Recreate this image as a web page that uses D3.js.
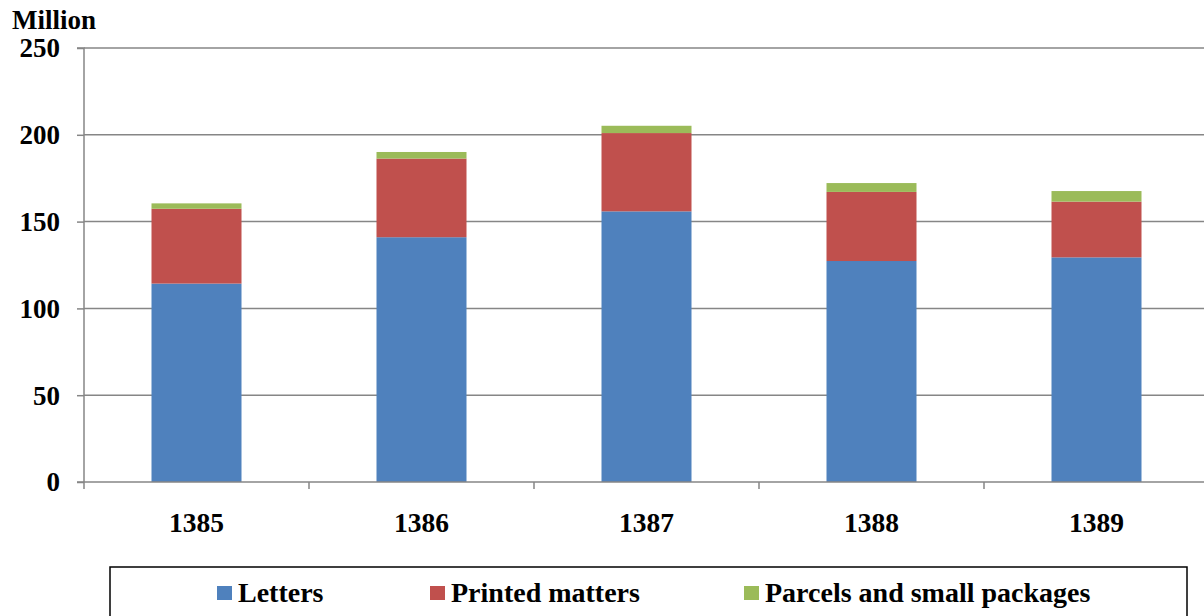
<!DOCTYPE html>
<html><head><meta charset="utf-8">
<script src="https://cdn.jsdelivr.net/npm/d3@7"></script>
<style>body{margin:0;background:#fff}svg{display:block}text{font-family:"Liberation Serif","Times New Roman",serif;font-weight:bold;fill:#000}</style>
</head><body><svg id="c" width="1204" height="616"></svg>
<script>
const years = ["1385","1386","1387","1388","1389"];
const letters = [114.3, 141.0, 155.9, 127.3, 129.4];
const printed = [43.1, 45.3, 45.1, 39.8, 32.1];
const parcels = [3.1, 3.8, 4.2, 5.1, 6.1];
const seriesNames = ["Letters","Printed matters","Parcels and small packages"];
const colors = ["#4f81bd","#c0504d","#9bbb59"];
const yTicks = [0,50,100,150,200,250];

const svg = d3.select("#c");
const m = {l:84, r:1209, t:48, b:482};
const xb = d3.scaleBand().domain(years).range([m.l, m.r]);
const y = d3.scaleLinear().domain([0,250]).range([m.b, m.t]);
const grey = "#868686";
const fs = "27px";

// gridlines
svg.append("g").selectAll("line").data(yTicks.filter(d=>d>0)).join("line")
  .attr("x1", m.l).attr("x2", 1204).attr("y1", d=>y(d)).attr("y2", d=>y(d))
  .attr("stroke", grey).attr("stroke-width", 1.5);

// stacked bars
const rows = years.map((yr,i)=>({year:yr, Letters:letters[i], "Printed matters":printed[i], "Parcels and small packages":parcels[i]}));
const stack = d3.stack().keys(seriesNames)(rows);
const bw = 90;
svg.append("g").selectAll("g").data(stack).join("g").attr("fill",(d,i)=>colors[i])
  .selectAll("rect").data(d=>d).join("rect")
  .attr("x", d=>xb(d.data.year)+xb.bandwidth()/2-bw/2).attr("width", bw)
  .attr("y", d=>y(d[1])).attr("height", d=>y(d[0])-y(d[1]));

// y axis
const ya = svg.append("g").attr("transform",`translate(${m.l},0)`)
  .call(d3.axisLeft(y).tickValues(yTicks).tickSize(7).tickPadding(17));
ya.select(".domain").attr("stroke", grey).attr("stroke-width",1.5).attr("d",`M-7,${m.t}H0V${m.b}`);
ya.selectAll(".tick line").attr("stroke", grey).attr("stroke-width",1.5);
ya.selectAll(".tick text").style("font-size",fs).style("font-family","'Liberation Serif',serif").style("font-weight","bold").attr("dy","0.33em");

// x axis
const xa = svg.append("g").attr("transform",`translate(0,${m.b})`)
  .call(d3.axisBottom(xb).tickSize(0).tickPadding(0));
xa.select(".domain").attr("stroke", grey).attr("stroke-width",1.5).attr("d",`M${m.l-7},0H1204`);
xa.selectAll(".tick text").style("font-size","27.5px").style("font-family","'Liberation Serif',serif").style("font-weight","bold")
  .attr("dy",null).attr("y",50);
svg.append("g").selectAll("line").data(years).join("line")
  .attr("x1",d=>xb(d)).attr("x2",d=>xb(d))
  .attr("y1",m.b).attr("y2",m.b+7).attr("stroke",grey).attr("stroke-width",1.5);

// unit label
svg.append("text").attr("x",12).attr("y",29).style("font-size",fs).text("Million");

// legend
svg.append("rect").attr("x",110).attr("y",567).attr("width",1077).attr("height",60)
  .attr("fill","none").attr("stroke","#000").attr("stroke-width",1.5);
const lx = [217, 430, 744];
const lg = svg.append("g").selectAll("g").data(seriesNames).join("g")
  .attr("transform",(d,i)=>`translate(${lx[i]},586)`);
lg.append("rect").attr("width",15).attr("height",14).attr("fill",(d,i)=>colors[i]);
lg.append("text").attr("x",21).attr("y",16).style("font-size","28px").text(d=>d);
</script></body></html>
